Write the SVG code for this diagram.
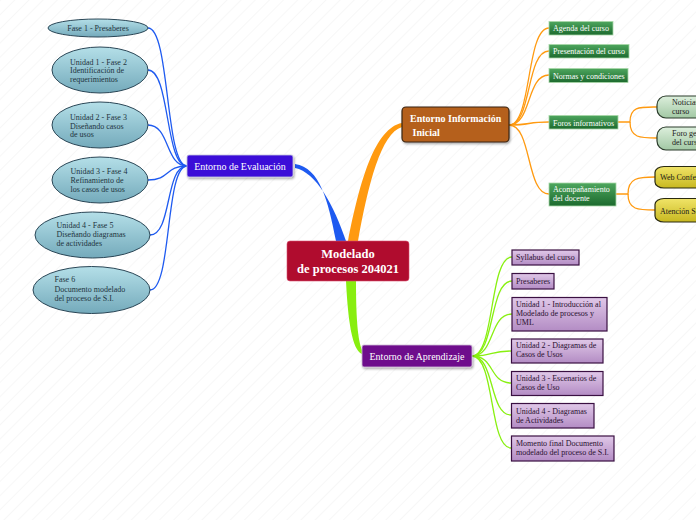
<svg xmlns="http://www.w3.org/2000/svg" width="696" height="520" viewBox="0 0 696 520">
<defs>
<pattern id="bg" width="10" height="10" patternUnits="userSpaceOnUse" patternTransform="rotate(-45)">
<rect width="10" height="10" fill="#ffffff"/>
<line x1="0" y1="0" x2="10" y2="0" stroke="#f0f0f0" stroke-width="1"/>
</pattern>
<linearGradient id="gEll" x1="0" y1="0" x2="0" y2="1"><stop offset="0" stop-color="#b4dfe8"/><stop offset="1" stop-color="#74aabb"/></linearGradient>
<linearGradient id="gGreen" x1="0" y1="0" x2="0" y2="1"><stop offset="0" stop-color="#4ea65e"/><stop offset="1" stop-color="#1c6a2e"/></linearGradient>
<linearGradient id="gPurp" x1="0" y1="0" x2="0" y2="1"><stop offset="0" stop-color="#e0c8e8"/><stop offset="1" stop-color="#b38cc4"/></linearGradient>
<linearGradient id="gLG" x1="0" y1="0" x2="0" y2="1"><stop offset="0" stop-color="#dcefdc"/><stop offset="1" stop-color="#a2c8a4"/></linearGradient>
<linearGradient id="gY" x1="0" y1="0" x2="0" y2="1"><stop offset="0" stop-color="#f0e468"/><stop offset="1" stop-color="#c8b820"/></linearGradient>
<filter id="sh" x="-10%" y="-20%" width="130%" height="160%"><feDropShadow dx="1" dy="1.5" stdDeviation="1" flood-color="#000" flood-opacity="0.35"/></filter>
</defs>
<style>
text{font-family:"Liberation Serif","Times New Roman",serif;font-size:8px}
.ell{fill:url(#gEll);stroke:#2a4656;stroke-width:1}
.et{fill:#1e3440}
.grn{fill:url(#gGreen);stroke:#a8d8a8;stroke-width:0.8}
.gt{fill:#ffffff}
.pur{fill:url(#gPurp);stroke:#3a1042;stroke-width:1.2}
.pt{fill:#2a1030}
.lg{fill:url(#gLG);stroke:#2c3c2c;stroke-width:1.2}
.yl{fill:url(#gY);stroke:#2a2a10;stroke-width:1.2}
.dk{fill:#1a1a1a}
.cb{fill:none;stroke:#1e5af0;stroke-width:1.3}
.co{fill:none;stroke:#ff9a10;stroke-width:1.3}
.cg{fill:none;stroke:#88f010;stroke-width:1.3}
text.wt{fill:#ffffff;font-size:10px}
text.wc{fill:#ffffff;font-weight:bold;font-size:12.5px}
text.wi{fill:#ffffff;font-weight:bold;font-size:10px}
</style>
<rect width="696" height="520" fill="url(#bg)"/>

<g id="connectors">
<path d="M336,241 C328,200 320,168 295,164 L295,168 C316,172 334,205 346,241 Z" fill="#1e5af0"/>
<path d="M348,241 C360,180 375,128 402,123 L402,127 C381,133 368,185 358,241 Z" fill="#ff9a10"/>
<path d="M346,281 C348,320 352,350 362,354 L362,350 C358,340 356,320 356,281 Z" fill="#88ee10"/>
<path class="cb" d="M187,166 C165,166 170,28 148,28"/>
<path class="cb" d="M187,166 C165,166 170,70 148,70"/>
<path class="cb" d="M187,166 C165,166 170,125 148,125"/>
<path class="cb" d="M187,166 C165,166 170,180 148,180"/>
<path class="cb" d="M187,166 C165,166 172,235 150,235"/>
<path class="cb" d="M187,166 C165,166 172,290 150,290"/>
<path class="co" d="M509,125 C532,125 526,28 549,28"/>
<path class="co" d="M509,125 C532,125 526,51 549,51"/>
<path class="co" d="M509,125 C532,125 526,75 549,75"/>
<path class="co" d="M509,125 C532,125 526,122 549,122"/>
<path class="co" d="M509,125 C532,125 526,194 549,194"/>
<path class="co" d="M618,122 L630,122 C630,106 640,107 657,107"/>
<path class="co" d="M630,122 C630,138 640,138 657,138"/>
<path class="co" d="M616,194 L628,194 C628,178 638,177 655,177"/>
<path class="co" d="M628,194 C628,210 638,210 655,210"/>
<path class="cg" d="M472,356 C495,356 489,257 512,257"/>
<path class="cg" d="M472,356 C495,356 489,281 512,281"/>
<path class="cg" d="M472,356 C495,356 489,314 512,314"/>
<path class="cg" d="M472,356 C495,356 489,351 511,351"/>
<path class="cg" d="M472,356 C495,356 489,383 511,383"/>
<path class="cg" d="M472,356 C495,356 489,415 511,415"/>
<path class="cg" d="M472,356 C495,356 489,448 511,448"/>
</g>

<g id="central">
<rect x="287" y="241" width="122" height="40" rx="3" fill="#b00c2e" stroke="#d85070" stroke-width="0.6"/>
<text class="wc" x="348" y="258" text-anchor="middle">Modelado</text>
<text class="wc" x="348" y="273" text-anchor="middle">de procesos 204021</text>
</g>

<g id="evaluacion">
<rect x="187" y="155" width="106" height="22" rx="2" fill="#3a10d8" stroke="#c8c8e0" stroke-width="0.8" filter="url(#sh)"/>
<text class="wt" x="240" y="169.5" text-anchor="middle">Entorno de Evaluación</text>
</g>

<g id="informacion">
<rect x="402" y="107" width="107" height="35" rx="4" fill="#b5611c" stroke="#3a2410" stroke-width="1.2" filter="url(#sh)"/>
<text class="wi" x="410" y="122">Entorno Información</text>
<text class="wi" x="410" y="136" xml:space="preserve"> Inicial</text>
</g>

<g id="aprendizaje">
<rect x="362" y="345" width="110" height="22" rx="2" fill="#6e0a8c" stroke="#d0c0d8" stroke-width="0.8" filter="url(#sh)"/>
<text class="wt" x="417" y="359.5" text-anchor="middle">Entorno de Aprendizaje</text>
</g>

<g id="fase1"><ellipse class="ell" cx="98" cy="28" rx="50" ry="9"/><text class="et" x="98" y="31" text-anchor="middle">Fase 1 - Presaberes</text></g>
<g id="fase2"><ellipse class="ell" cx="100" cy="70" rx="48" ry="23"/><text class="et" x="70" y="64.5">Unidad 1 - Fase 2</text><text class="et" x="70" y="73.3">Identificación de</text><text class="et" x="70" y="82.3">requerimientos</text></g>
<g id="fase3"><ellipse class="ell" cx="100" cy="125" rx="48" ry="23"/><text class="et" x="70" y="119.5">Unidad 2 - Fase 3</text><text class="et" x="70" y="128.5">Diseñando casos</text><text class="et" x="70" y="137.3">de usos</text></g>
<g id="fase4"><ellipse class="ell" cx="100" cy="180" rx="48" ry="23"/><text class="et" x="70.5" y="174">Unidad 3 - Fase 4</text><text class="et" x="70.5" y="183">Refinamiento de</text><text class="et" x="70.5" y="192">los casos de usos</text></g>
<g id="fase5"><ellipse class="ell" cx="92.5" cy="235" rx="57.5" ry="23"/><text class="et" x="56.5" y="228">Unidad 4 - Fase 5</text><text class="et" x="56.5" y="237">Diseñando diagramas</text><text class="et" x="56.5" y="246.3">de actividades</text></g>
<g id="fase6"><ellipse class="ell" cx="91.5" cy="290" rx="58.5" ry="23.5"/><text class="et" x="54.5" y="282.3">Fase 6</text><text class="et" x="54.5" y="291.7">Documento modelado</text><text class="et" x="54.5" y="300.7">del proceso de S.I.</text></g>

<g id="agenda"><rect class="grn" x="549" y="21.5" width="64" height="13.5"/><text class="gt" x="553" y="31">Agenda del curso</text></g>
<g id="presentacion"><rect class="grn" x="549" y="44.5" width="80" height="13.5"/><text class="gt" x="553" y="54">Presentación del curso</text></g>
<g id="normas"><rect class="grn" x="549" y="68.5" width="79" height="14"/><text class="gt" x="553" y="78.5">Normas y condiciones</text></g>
<g id="foros"><rect class="grn" x="549" y="115.5" width="69" height="13.5"/><text class="gt" x="553" y="125.5">Foros informativos</text></g>
<g id="acomp"><rect class="grn" x="549" y="183" width="67" height="23"/><text class="gt" x="553" y="192">Acompañamiento</text><text class="gt" x="553" y="201">del docente</text></g>

<g id="noticias"><rect class="lg" x="657" y="96" width="60" height="22" rx="9"/><text class="dk" x="672" y="105">Noticias del</text><text class="dk" x="672" y="113.5">curso</text></g>
<g id="forogeneral"><rect class="lg" x="657" y="127" width="60" height="23" rx="9"/><text class="dk" x="672" y="136">Foro general</text><text class="dk" x="672" y="144.5">del curso</text></g>
<g id="webconf"><rect class="yl" x="655" y="166.5" width="70" height="21.5" rx="9" ry="6"/><text class="dk" x="660" y="180">Web Conferencia</text></g>
<g id="skype"><rect class="yl" x="655" y="198.5" width="70" height="23.5" rx="9" ry="6"/><text class="dk" x="660" y="213.5">Atención Skype</text></g>

<g id="syllabus"><rect class="pur" x="512" y="250" width="67" height="15"/><text class="pt" x="516" y="260">Syllabus del curso</text></g>
<g id="presaberes"><rect class="pur" x="512" y="273.5" width="42" height="15.5"/><text class="pt" x="516" y="284">Presaberes</text></g>
<g id="unidad1"><rect class="pur" x="512" y="297.5" width="95" height="33.5"/><text class="pt" x="516" y="306.5">Unidad 1 - Introducción al</text><text class="pt" x="516" y="315.5">Modelado de procesos y</text><text class="pt" x="516" y="324.5">UML</text></g>
<g id="unidad2"><rect class="pur" x="511.5" y="339" width="91.5" height="24"/><text class="pt" x="516" y="348">Unidad 2 - Diagramas de</text><text class="pt" x="516" y="357">Casos de Usos</text></g>
<g id="unidad3"><rect class="pur" x="511.5" y="371.5" width="91.5" height="24"/><text class="pt" x="516" y="381">Unidad 3 - Escenarios de</text><text class="pt" x="516" y="390">Casos de Uso</text></g>
<g id="unidad4"><rect class="pur" x="511.5" y="403.5" width="82.5" height="24.5"/><text class="pt" x="516" y="413.5">Unidad 4 - Diagramas</text><text class="pt" x="516" y="422.5">de Actividades</text></g>
<g id="momento"><rect class="pur" x="511.5" y="436" width="102.5" height="25"/><text class="pt" x="516" y="446">Momento final Documento</text><text class="pt" x="516" y="455">modelado del proceso de S.I.</text></g>
</svg>
